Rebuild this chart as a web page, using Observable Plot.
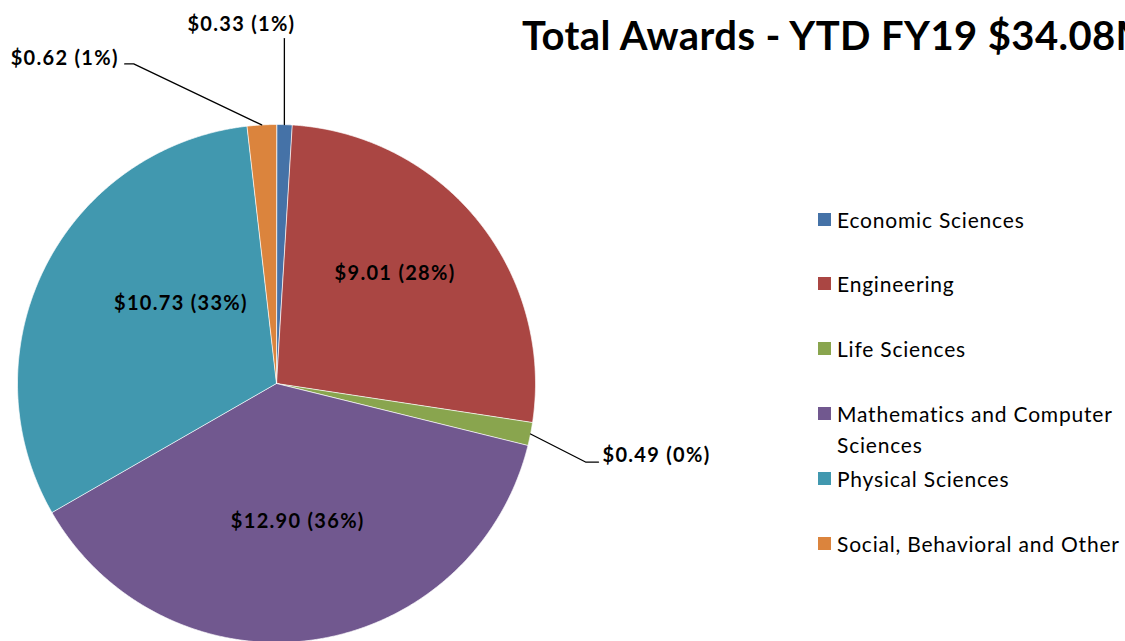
<!DOCTYPE html>
<html><head><meta charset="utf-8">
<script src="https://cdn.jsdelivr.net/npm/d3@7"></script>
<script src="https://cdn.jsdelivr.net/npm/@observablehq/plot@0.6"></script>
<style>
html,body{margin:0;padding:0;background:#fff;overflow:hidden;width:1125px;height:641px;}
#wrap{position:relative;width:1125px;height:641px;overflow:hidden;}
#wrap svg{position:absolute;left:0;top:0;}
.pie text{letter-spacing:1.3px;}
#title{position:absolute;left:522px;top:11px;font-family:Lato,"Open Sans",sans-serif;font-weight:bold;font-size:40px;letter-spacing:0.4px;white-space:nowrap;color:#000;}
.lg{position:absolute;left:818px;font-family:Lato,"Open Sans",sans-serif;font-size:21px;letter-spacing:0.8px;color:#000;line-height:31px;}
.lg .sw{position:absolute;left:0;top:9px;width:13px;height:13px;}
.lg .tx{position:absolute;left:19px;top:0;width:300px;}
</style></head><body><div id="wrap"></div>
<script>
// ---- data ----
const categories = ["Economic Sciences","Engineering","Life Sciences","Mathematics and Computer Sciences","Physical Sciences","Social, Behavioral and Other"];
const values = [0.33, 9.01, 0.49, 12.90, 10.73, 0.62];
const pctLabels = ["1%","28%","0%","36%","33%","1%"];
const colors = ["#4572A7","#AA4643","#89A54E","#71588F","#4198AF","#DB843D"];
const titleText = "Total Awards - YTD FY19 $34.08M";

// ---- layout ----
const W = 1125, H = 641, CX = 276, CY = 383, R = 259;
const FONT = "Lato, 'Open Sans', sans-serif";
// inside labels: angle tweak (deg) and radius fraction
const insideLayout = {
  "Engineering": {da: -4, rf: 0.625},
  "Mathematics and Computer Sciences": {da: -0.7, rf: 0.54},
  "Physical Sciences": {da: 13, rf: 0.48}
};
// outside labels: leader elbows (screen px deltas from arc point), text offset from last point, anchor
const outsideLayout = {
  "Economic Sciences": {pts: [[0, -86]], tdx: 11, tdy: -14, anchor: "end"},
  "Social, Behavioral and Other": {pts: [[-128, -61], [-137, -61]], tdx: -6, tdy: -5, anchor: "end"},
  "Life Sciences": {pts: [[55, 28], [68, 28]], tdx: 4, tdy: -6, anchor: "start"}
};

const fmt = (v, i) => `$${v.toFixed(2)} (${pctLabels[i]})`;
const arcs = d3.pie().sort(null)(values);
const polar = (a, r) => [r * Math.sin(a), r * Math.cos(a)];

const marks = [];
arcs.forEach((a, i) => {
  const pts = [{x: 0, y: 0}];
  const n = Math.max(2, Math.ceil((a.endAngle - a.startAngle) / 0.004));
  for (let k = 0; k <= n; k++) {
    const t = a.startAngle + (a.endAngle - a.startAngle) * k / n;
    const [x, y] = polar(t, R);
    pts.push({x, y});
  }
  marks.push(Plot.line(pts, {x: "x", y: "y", fill: colors[i], stroke: "white", strokeWidth: 0.7, curve: "linear-closed"}));
});

const inside = [], leaders = [], outside = [];
arcs.forEach((a, i) => {
  const c = categories[i];
  const mid = (a.startAngle + a.endAngle) / 2;
  if (insideLayout[c]) {
    const L = insideLayout[c];
    const [x, y] = polar(mid + L.da * Math.PI / 180, R * L.rf);
    inside.push({x, y, text: fmt(values[i], i)});
  } else if (outsideLayout[c]) {
    const L = outsideLayout[c];
    const [x0, y0] = polar(mid, R);
    leaders.push({x: x0, y: y0, c});
    let lx = x0, ly = y0;
    L.pts.forEach(([dx, dy]) => { lx = x0 + dx; ly = y0 - dy; leaders.push({x: lx, y: ly, c}); });
    outside.push({x: lx + L.tdx, y: ly - L.tdy, text: fmt(values[i], i), anchor: L.anchor});
  }
});

marks.push(Plot.line(leaders, {x: "x", y: "y", z: "c", stroke: "black", strokeWidth: 1.3}));
marks.push(Plot.text(inside, {x: "x", y: "y", text: "text", fontWeight: "bold", fontSize: 20, fill: "black", fontFamily: FONT}));
marks.push(Plot.text(outside.filter(d => d.anchor === "end"), {x: "x", y: "y", text: "text", textAnchor: "end", fontWeight: "bold", fontSize: 20, fill: "black", fontFamily: FONT}));
marks.push(Plot.text(outside.filter(d => d.anchor === "start"), {x: "x", y: "y", text: "text", textAnchor: "start", fontWeight: "bold", fontSize: 20, fill: "black", fontFamily: FONT}));

const chart = Plot.plot({
  width: W, height: H, className: "pie",
  marginTop: 0, marginRight: 0, marginBottom: 0, marginLeft: 0,
  x: {domain: [-CX, W - CX], range: [0, W], axis: null},
  y: {domain: [-(H - CY), CY], range: [H, 0], axis: null},
  style: {background: "white", overflow: "hidden"},
  marks
});
const wrap = document.getElementById("wrap");
wrap.appendChild(chart);

const t = document.createElement("div");
t.id = "title"; t.textContent = titleText;
wrap.appendChild(t);

categories.forEach((c, i) => {
  const row = document.createElement("div");
  row.className = "lg";
  row.style.top = (219 - 15.5 + i * 64.8) + "px";
  row.innerHTML = `<div class="sw" style="background:${colors[i]}"></div><div class="tx"></div>`;
  row.querySelector(".tx").textContent = c;
  wrap.appendChild(row);
});
</script></body></html>
